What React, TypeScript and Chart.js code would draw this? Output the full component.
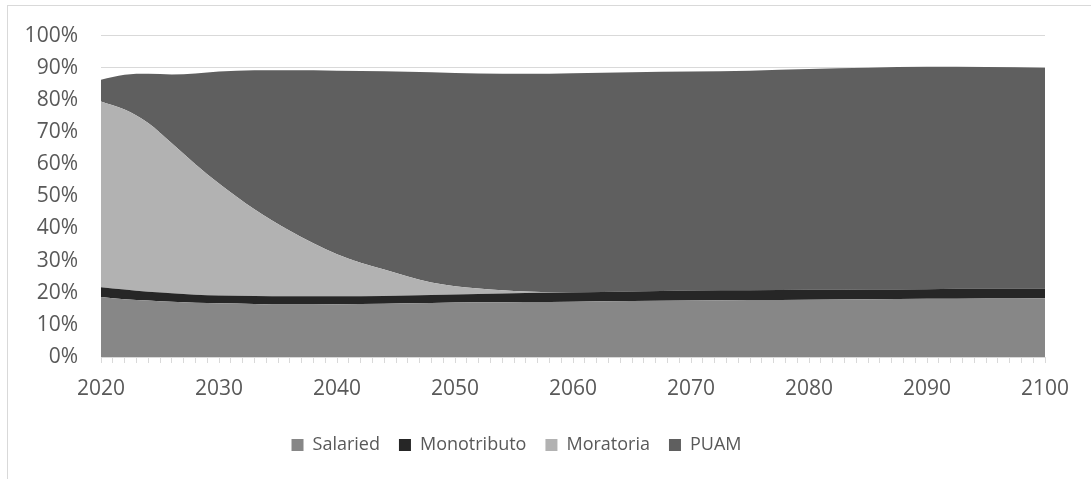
import React, { useEffect, useRef } from "react";
import { Chart, registerables } from "chart.js";

Chart.register(...registerables);

const years = [2020, 2022, 2024, 2026, 2028, 2030, 2033, 2036, 2040, 2044, 2048, 2052, 2056, 2060, 2065, 2070, 2075, 2080, 2085, 2090, 2095, 2100];
const salaried = [18.7, 18.0, 17.6, 17.2, 16.9, 16.7, 16.5, 16.3, 16.4, 16.6, 16.8, 17.0, 17.1, 17.2, 17.4, 17.6, 17.7, 17.8, 18.0, 18.1, 18.2, 18.3];
const monotributo = [3.0, 3.0, 2.7, 2.6, 2.5, 2.4, 2.5, 2.6, 2.5, 2.4, 2.5, 2.6, 2.8, 2.9, 3.0, 3.1, 3.1, 3.1, 3.0, 3.0, 3.0, 2.9];
const moratoria = [57.8, 56.0, 52.5, 46.7, 40.6, 34.9, 27.0, 20.4, 13.1, 8.2, 3.9, 1.7, 0.5, 0, 0, 0, 0, 0, 0, 0, 0, 0];
const puam = [6.8, 10.8, 15.3, 21.4, 28.2, 34.8, 43.2, 49.9, 57.1, 61.7, 65.4, 66.9, 67.7, 68.2, 68.2, 68.1, 68.3, 68.7, 69.0, 69.2, 69.0, 68.8];
const seriesNames = ["Salaried", "Monotributo", "Moratoria", "PUAM"];
const seriesColors = ["#878787", "#262626", "#b2b2b2", "#5f5f5f"];

const shiftLegend = {
  id: "shiftLegend",
  afterLayout(chart: any) {
    if (chart.legend) {
      chart.legend.left -= 11;
      chart.legend.right -= 11;
    }
  },
};

export default function App() {
  const ref = useRef<HTMLCanvasElement | null>(null);
  useEffect(() => {
    if (!ref.current) return;
    const all = [salaried, monotributo, moratoria, puam];
    const chart = new Chart(ref.current, {
      type: "line",
      data: {
        datasets: all.map((vals, i) => ({
          label: seriesNames[i],
          data: vals.map((v, j) => ({ x: years[j], y: v })),
          backgroundColor: seriesColors[i],
          borderColor: seriesColors[i],
          borderWidth: 0,
          pointRadius: 0,
          fill: i === 0 ? "origin" : "-1",
          cubicInterpolationMode: "monotone",
        })),
      },
      plugins: [shiftLegend],
      options: {
        animation: false,
        responsive: false,
        layout: { padding: { left: 10, right: 46, top: 34, bottom: 15 } },
        plugins: {
          tooltip: { enabled: false },
          legend: {
            position: "bottom",
            labels: {
              boxWidth: 12,
              boxHeight: 12,
              padding: 19,
              color: "#595959",
              font: { family: "'Open Sans'", size: 18 },
            },
          },
        },
        scales: {
          x: {
            type: "linear",
            min: 2020,
            max: 2100,
            afterFit: (s: any) => { s.height = 60; },
            grid: { drawOnChartArea: false, drawTicks: true, tickLength: 6, color: "#d9d9d9" },
            border: { display: true, color: "#d9d9d9" },
            ticks: {
              stepSize: 1,
              autoSkip: false,
              maxRotation: 0,
              padding: 13,
              color: "#595959",
              font: { family: "'Open Sans'", size: 21 },
              callback: (v: any) => (Number(v) % 10 === 0 ? String(v) : ""),
            },
          },
          y: {
            stacked: true,
            min: 0,
            max: 100,
            afterFit: (s: any) => { s.width = 91; },
            grid: { color: "#d9d9d9", drawTicks: false, lineWidth: 1 },
            border: { display: false },
            ticks: {
              stepSize: 10,
              padding: 23,
              color: "#595959",
              font: { family: "'Open Sans'", size: 21 },
              callback: (v: any) => v + "%",
            },
          },
        },
      },
    });
    return () => chart.destroy();
  }, []);
  return (
    <>
      <div style={{ position: "absolute", left: 7, top: 5, width: 1095, height: 480, border: "1px solid #d9d9d9", boxSizing: "border-box" }} />
      <canvas ref={ref} width={1091} height={479} style={{ position: "absolute", left: 0, top: 0, display: "block" }} />
    </>
  );
}
